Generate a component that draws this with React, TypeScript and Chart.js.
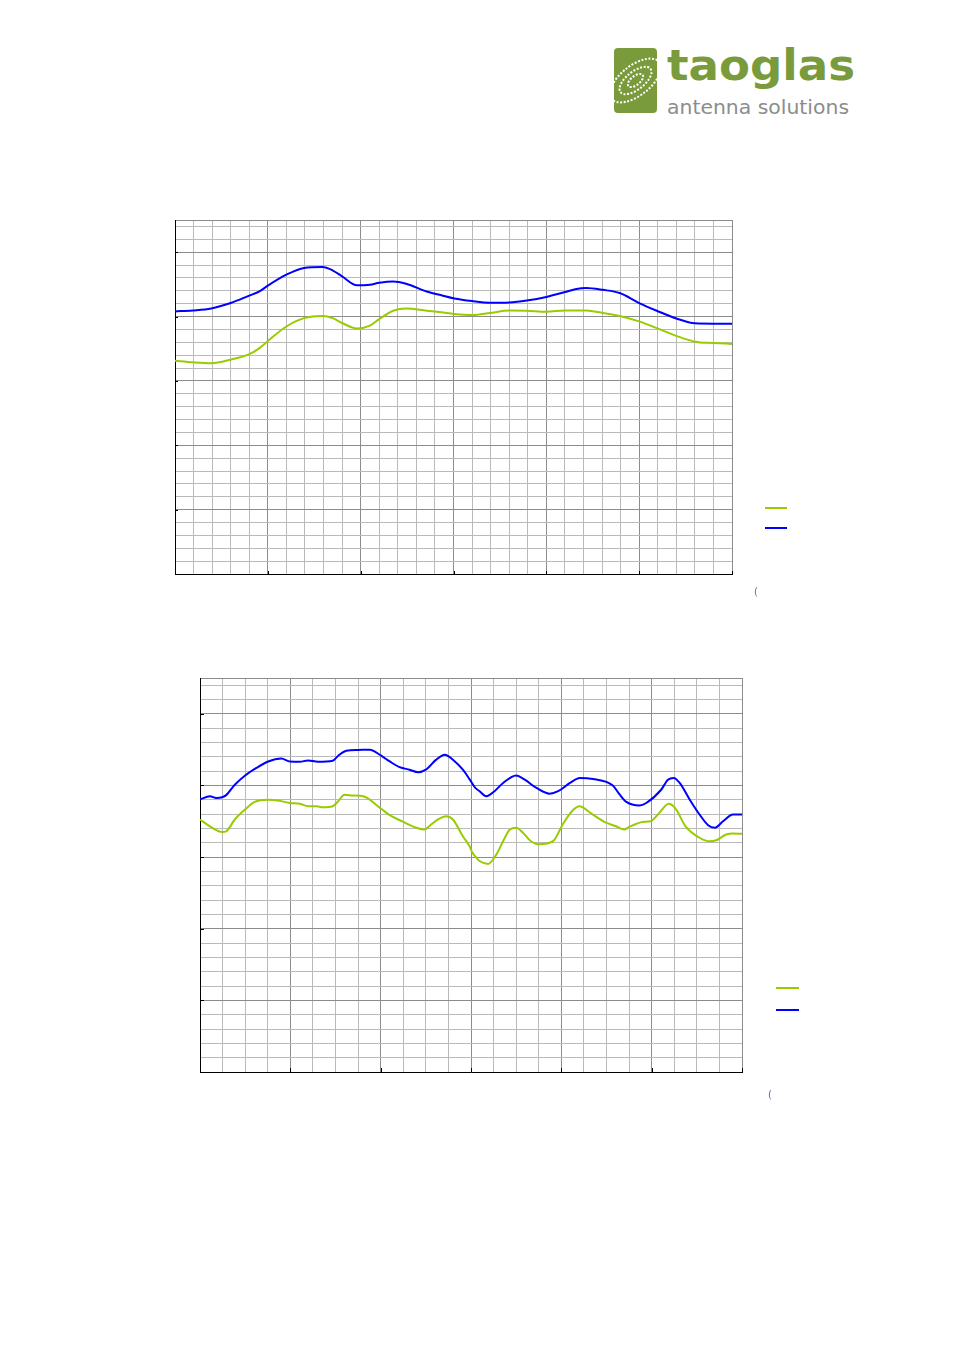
import React, { useEffect, useRef } from "react";
import { Chart, registerables } from "chart.js";

Chart.register(...registerables);

// ---------- Chart 1 data ----------
const chart1Freq = [1550, 1551.9, 1553.9, 1556, 1558, 1559.1, 1560, 1562, 1563.9, 1565.9, 1567, 1568, 1569.6, 1571, 1572, 1573.5, 1574.9, 1577.1, 1578.7, 1580.1, 1582, 1583.9, 1586, 1587.9, 1590, 1592, 1593.1, 1594.3, 1596.1, 1597.9, 1600, 1601.9, 1604, 1606, 1608, 1610];
const chart1Blue = [-9.2, -9.05, -8.75, -7.9, -6.75, -6.1, -5.2, -3.5, -2.45, -2.3, -2.85, -3.75, -5.15, -5.05, -4.75, -4.55, -4.9, -6.1, -6.7, -7.2, -7.6, -7.85, -7.8, -7.5, -6.95, -6.2, -5.75, -5.55, -5.85, -6.35, -7.9, -9.1, -10.3, -11.05, -11.1, -11.1];
const chart1Green = [-16.85, -17.1, -17.25, -16.7, -15.85, -14.9, -13.8, -11.55, -10.25, -9.9, -10.25, -11.0, -11.85, -11.4, -10.4, -9.1, -8.75, -9.1, -9.35, -9.6, -9.75, -9.45, -9.05, -9.1, -9.25, -9.05, -9.05, -9.05, -9.45, -9.9, -10.75, -11.8, -13.0, -13.9, -14.1, -14.25];

// ---------- Chart 2 data ----------
const chart2BlueFreq = [1150, 1152.2, 1153.6, 1154.9, 1155.8, 1157.7, 1160, 1162.5, 1165.1, 1168, 1169.9, 1172.1, 1173.9, 1176.1, 1179.4, 1180.6, 1182.4, 1185, 1187.6, 1190.1, 1192, 1194.2, 1196.4, 1198.3, 1200, 1202.3, 1204.2, 1206, 1208.2, 1209.7, 1210.9, 1211.9, 1213.4, 1215.2, 1217.1, 1220, 1221.9, 1224.5, 1227.4, 1229.3, 1231.9, 1234.1, 1237, 1241.4, 1242.9, 1244.4, 1247.3, 1248.8, 1252.1, 1253.6, 1254.9, 1256.2, 1258.4, 1260.6, 1262.5, 1264, 1265.8, 1268, 1270];
const chart2Blue = [-11.95, -11.5, -11.75, -11.65, -11.35, -9.9, -8.6, -7.55, -6.65, -6.25, -6.65, -6.7, -6.5, -6.7, -6.55, -5.85, -5.15, -5.05, -5.0, -5.85, -6.65, -7.45, -7.8, -8.15, -7.8, -6.4, -5.7, -6.4, -7.8, -9.15, -10.3, -10.8, -11.5, -10.8, -9.65, -8.6, -9.2, -10.35, -11.15, -10.8, -9.65, -8.95, -9.1, -10.0, -11.25, -12.3, -12.8, -12.45, -10.6, -9.2, -8.95, -9.65, -11.95, -14.05, -15.55, -15.9, -15.0, -14.05, -14.05];
const chart2GreenFreq = [1150, 1152.2, 1154.9, 1155.8, 1157.7, 1160, 1162.1, 1165.1, 1167.6, 1169.9, 1172.1, 1173.9, 1175.8, 1177.2, 1179.4, 1180.6, 1182, 1183.9, 1186.1, 1190.1, 1192, 1194.9, 1197.9, 1199.7, 1200.9, 1202.7, 1204.5, 1206, 1208.2, 1209.7, 1210.2, 1211.2, 1211.9, 1213.8, 1215.6, 1217.1, 1218.6, 1220, 1221.5, 1223, 1224.8, 1227.4, 1228.5, 1230.3, 1232.5, 1234, 1236.6, 1239.9, 1242.1, 1243.9, 1245, 1248, 1249.8, 1251.6, 1253.8, 1255.3, 1257.5, 1260.6, 1262.8, 1264.3, 1266.5, 1268, 1270];
const chart2Green = [-14.75, -15.7, -16.5, -16.4, -14.75, -13.35, -12.3, -12.0, -12.15, -12.45, -12.55, -12.9, -12.9, -13.05, -12.9, -12.2, -11.3, -11.4, -11.5, -13.25, -14.15, -15.05, -15.9, -16.15, -15.6, -14.75, -14.3, -14.75, -17.1, -18.5, -19.25, -20.1, -20.55, -20.95, -19.65, -17.8, -16.15, -15.9, -16.6, -17.65, -18.2, -18.0, -17.55, -15.45, -13.5, -12.9, -13.9, -15.2, -15.7, -16.15, -15.8, -15.1, -15.0, -13.9, -12.55, -13.25, -15.7, -17.3, -17.8, -17.65, -16.85, -16.7, -16.75];

// ---------- axes ----------
const yMin = -50;
const yMax = 5;
const yMinorStep = 2;
const yMajorStep = 10;

const chart1XMin = 1550;
const chart1XMax = 1610;
const chart1XMinor = 2;
const chart1XMajor = 10;

const chart2XMin = 1150;
const chart2XMax = 1270;
const chart2XMinor = 5;
const chart2XMajor = 20;

const GREEN = "#99cc00";
const BLUE = "#0000ff";
const MAJOR_GRID = "#8c8c8c";
const MINOR_GRID = "#bababa";

function buildTicks(min: number, max: number, step: number): number[] {
  const out: number[] = [];
  for (let v = min; v <= max + 1e-9; v += step) out.push(Math.round(v * 1000) / 1000);
  if (Math.abs(out[out.length - 1] - max) > 1e-6) out.push(max);
  return out;
}

type PlotProps = {
  left: number;
  top: number;
  width: number;
  height: number;
  pad: { left: number; top: number; right: number; bottom: number };
  xMin: number;
  xMax: number;
  xMinor: number;
  xMajor: number;
  greenX: number[];
  greenY: number[];
  blueX: number[];
  blueY: number[];
  legend: { dx1: number; dx2: number; greenUp: number; blueUp: number };
  tickLen: number;
};

function Plot(p: PlotProps) {
  const ref = useRef<HTMLCanvasElement | null>(null);
  useEffect(() => {
    if (!ref.current) return;
    const xTicks = buildTicks(p.xMin, p.xMax, p.xMinor);
    const yTicks = buildTicks(yMin, yMax, yMinorStep);
    const isMajorX = (v: number) =>
      Math.abs(((v - p.xMin) / p.xMajor) - Math.round((v - p.xMin) / p.xMajor)) < 1e-6 || v === p.xMax;
    const isMajorY = (v: number) =>
      Math.abs(v / yMajorStep - Math.round(v / yMajorStep)) < 1e-6 || v === yMax;

    const decorations = {
      id: "decorations",
      afterDraw(chart: any) {
        const { ctx, chartArea, scales } = chart;
        ctx.save();
        ctx.strokeStyle = "#000";
        ctx.lineWidth = 1;
        ctx.beginPath();
        for (const v of yTicks) {
          if (v === yMin || v === yMax || !isMajorY(v)) continue;
          const y = Math.round(scales.y.getPixelForValue(v)) + 0.5;
          ctx.moveTo(chartArea.left, y);
          ctx.lineTo(chartArea.left + p.tickLen, y);
        }
        for (const v of xTicks) {
          if (v === p.xMin || !isMajorX(v)) continue;
          const x = Math.round(scales.x.getPixelForValue(v)) + 0.5;
          ctx.moveTo(x, chartArea.bottom);
          ctx.lineTo(x, chartArea.bottom - p.tickLen);
        }
        ctx.stroke();
        ctx.lineWidth = 2;
        ctx.strokeStyle = GREEN;
        ctx.beginPath();
        ctx.moveTo(chartArea.right + p.legend.dx1, chartArea.bottom - p.legend.greenUp);
        ctx.lineTo(chartArea.right + p.legend.dx2, chartArea.bottom - p.legend.greenUp);
        ctx.stroke();
        ctx.strokeStyle = BLUE;
        ctx.beginPath();
        ctx.moveTo(chartArea.right + p.legend.dx1, chartArea.bottom - p.legend.blueUp);
        ctx.lineTo(chartArea.right + p.legend.dx2, chartArea.bottom - p.legend.blueUp);
        ctx.stroke();
        ctx.restore();
      },
    };

    const chart = new Chart(ref.current, {
      type: "line",
      data: {
        datasets: [
          {
            label: "green",
            data: p.greenX.map((x, i) => ({ x, y: p.greenY[i] })),
            borderColor: GREEN,
            borderWidth: 2,
            pointRadius: 0,
            cubicInterpolationMode: "monotone",
            fill: false,
          },
          {
            label: "blue",
            data: p.blueX.map((x, i) => ({ x, y: p.blueY[i] })),
            borderColor: BLUE,
            borderWidth: 2,
            pointRadius: 0,
            cubicInterpolationMode: "monotone",
            fill: false,
          },
        ],
      },
      options: {
        animation: false,
        responsive: false,
        devicePixelRatio: 1,
        layout: { padding: p.pad },
        plugins: { legend: { display: false }, tooltip: { enabled: false }, title: { display: false } },
        events: [],
        scales: {
          x: {
            type: "linear",
            min: p.xMin,
            max: p.xMax,
            afterBuildTicks: (s: any) => {
              s.ticks = xTicks.map((v) => ({ value: v }));
            },
            afterFit: (s: any) => {
              s.height = 0;
            },
            ticks: { display: false },
            grid: {
              drawTicks: false,
              lineWidth: 1,
              color: (c: any) => (c.tick && isMajorX(c.tick.value) ? MAJOR_GRID : MINOR_GRID),
            },
            border: { display: true, color: "#000", width: 1 },
          },
          y: {
            type: "linear",
            min: yMin,
            max: yMax,
            afterBuildTicks: (s: any) => {
              s.ticks = yTicks.map((v) => ({ value: v }));
            },
            afterFit: (s: any) => {
              s.width = 0;
            },
            ticks: { display: false },
            grid: {
              drawTicks: false,
              lineWidth: 1,
              color: (c: any) => (c.tick && isMajorY(c.tick.value) ? MAJOR_GRID : MINOR_GRID),
            },
            border: { display: true, color: "#000", width: 1 },
          },
        },
      } as any,
      plugins: [decorations],
    });
    return () => chart.destroy();
  }, []);
  return (
    <canvas
      ref={ref}
      width={p.width}
      height={p.height}
      style={{ position: "absolute", left: p.left, top: p.top, width: p.width, height: p.height }}
    />
  );
}

function Logo() {
  return (
    <svg
      width={270}
      height={100}
      style={{ position: "absolute", left: 600, top: 30 }}
      viewBox="0 0 270 100"
    >
      <defs>
        <clipPath id="iconClip">
          <rect x={14} y={18} width={43} height={65} rx={4} />
        </clipPath>
      </defs>
      <rect x={14} y={18} width={43} height={65} rx={4} fill="#7a9b3c" />
      <g clipPath="url(#iconClip)">
        <g fill="none" stroke="#ffffff" strokeWidth={2} strokeDasharray="2 1.6" transform="rotate(-38 35.5 50.5)">
          <ellipse cx={35.5} cy={50.5} rx={30} ry={15} />
          <ellipse cx={35.5} cy={50.5} rx={19} ry={9} />
          <ellipse cx={35.5} cy={50.5} rx={9} ry={4.5} />
        </g>
      </g>
      <text
        x={67}
        y={50}
        fontFamily="DejaVu Sans, Verdana, sans-serif"
        fontWeight="bold"
        fontSize={43}
        fill="#7a9b3c"
        textLength={188}
        lengthAdjust="spacingAndGlyphs"
      >
        taoglas
      </text>
      <text
        x={67}
        y={84}
        fontFamily="DejaVu Sans, Verdana, sans-serif"
        fontSize={19}
        fill="#8c8c8c"
        textLength={182}
        lengthAdjust="spacingAndGlyphs"
      >
        antenna solutions
      </text>
    </svg>
  );
}

const parenStyle: React.CSSProperties = {
  position: "absolute",
  fontFamily: "DejaVu Sans, sans-serif",
  fontSize: 10,
  lineHeight: "12px",
  color: "#6666b8",
};

export default function App() {
  return (
    <div style={{ position: "absolute", left: 0, top: 0, width: 954, height: 1350, background: "#fff" }}>
      <Logo />
      <Plot
        left={160}
        top={205}
        width={660}
        height={400}
        pad={{ left: 15, top: 15, right: 88, bottom: 31 }}
        xMin={chart1XMin}
        xMax={chart1XMax}
        xMinor={chart1XMinor}
        xMajor={chart1XMajor}
        greenX={chart1Freq}
        greenY={chart1Green}
        blueX={chart1Freq}
        blueY={chart1Blue}
        legend={{ dx1: 33, dx2: 55, greenUp: 66, blueUp: 46 }}
        tickLen={3}
      />
      <span style={{ ...parenStyle, left: 754, top: 586 }}>(</span>
      <Plot
        left={185}
        top={663}
        width={640}
        height={450}
        pad={{ left: 15, top: 15, right: 83, bottom: 41 }}
        xMin={chart2XMin}
        xMax={chart2XMax}
        xMinor={chart2XMinor}
        xMajor={chart2XMajor}
        greenX={chart2GreenFreq}
        greenY={chart2Green}
        blueX={chart2BlueFreq}
        blueY={chart2Blue}
        legend={{ dx1: 34, dx2: 57, greenUp: 84, blueUp: 62 }}
        tickLen={4}
      />
      <span style={{ ...parenStyle, left: 768, top: 1089 }}>(</span>
    </div>
  );
}
